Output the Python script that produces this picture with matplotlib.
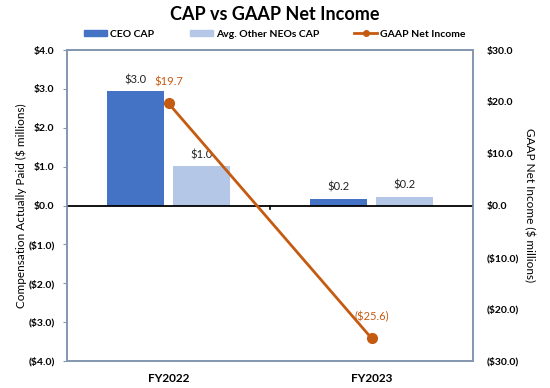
import matplotlib
matplotlib.use("Agg")
import matplotlib.pyplot as plt
import numpy as np
from matplotlib.ticker import FuncFormatter
from matplotlib.lines import Line2D
from matplotlib.patches import Patch

categories = ["FY2022", "FY2023"]
ceo_cap = [2.95, 0.18]
neo_cap = [1.01, 0.23]
ceo_labels = ["$3.0", "$0.2"]
neo_labels = ["$1.0", "$0.2"]
net_income = [19.7, -25.6]
ni_labels = ["$19.7", "($25.6)"]

plt.rcParams['font.family'] = ['Lato', 'DejaVu Sans']

c_ceo = "#4472C4"
c_neo = "#B4C7E7"
c_line = "#C55A11"
c_spine = "#8497B0"

fig = plt.figure(figsize=(5.5, 3.88), dpi=100)
ax = fig.add_axes([0.122, 0.0696, 0.738, 0.8014])
ax2 = ax.twinx()

x = np.arange(len(categories))
w = 0.28
off = 0.162
ax.bar(x - off, ceo_cap, w, color=c_ceo, zorder=2)
ax.bar(x + off, neo_cap, w, color=c_neo, zorder=2)
for xi, v, l in zip(x - off, ceo_cap, ceo_labels):
    ax.text(xi, v + 0.15, l, ha='center', va='bottom', fontsize=8, color='#222222')
for xi, v, l in zip(x + off, neo_cap, neo_labels):
    ax.text(xi, v + 0.15, l, ha='center', va='bottom', fontsize=8, color='#222222')

ax.axhline(0, color='black', lw=1.3, zorder=3)
ax.plot([0.5, 0.5], [0, -0.1], color='black', lw=1.2, zorder=3)

ax.set_xlim(-0.5, 1.5)
ax.set_ylim(-4, 4)
ax.set_yticks(np.arange(-4, 4.01, 1))
def lfmt(v, p):
    return f"${v:.1f}" if v >= 0 else f"(${-v:.1f})"
ax.yaxis.set_major_formatter(FuncFormatter(lfmt))
ax.set_xticks(x)
ax.set_xticklabels(categories, fontweight='bold', fontsize=8.5)
ax.tick_params(axis='x', length=0, pad=9)
ax.tick_params(axis='y', length=3, color=c_spine, labelsize=7.5, pad=6)
for lab in ax.get_yticklabels():
    lab.set_fontweight('bold')
ax.set_ylabel("Compensation Actually Paid ($ millions)", fontsize=8.5, labelpad=1)

ax2.plot(x, net_income, color=c_line, lw=2, marker='o', markersize=7, zorder=4)
for xi, v, l in zip(x, net_income, ni_labels):
    ax2.text(xi, v + 3.0, l, ha='center', va='bottom', fontsize=8, color=c_line)
ax2.set_ylim(-30, 30)
ax2.set_yticks(np.arange(-30, 30.1, 10))
ax2.yaxis.set_major_formatter(FuncFormatter(lfmt))
ax2.tick_params(axis='y', length=0, labelsize=7.5, pad=10)
for lab in ax2.get_yticklabels():
    lab.set_fontweight('bold')
ax2.set_ylabel("GAAP Net Income ($ millions)", fontsize=8.5, rotation=270, labelpad=11)

for a in (ax, ax2):
    for s in a.spines.values():
        s.set_color(c_spine)
        s.set_linewidth(1.2)

fig.text(0.5, 0.962, "CAP vs GAAP Net Income", ha='center', va='center',
         fontsize=13, fontweight='bold')

handles = [Patch(color=c_ceo), Patch(color=c_neo),
           Line2D([0], [0], color=c_line, lw=2, marker='o', markersize=4)]
labels = ["CEO CAP", "Avg. Other NEOs CAP", "GAAP Net Income"]
leg = fig.legend(handles, labels, loc='center', bbox_to_anchor=(0.5, 0.912), ncol=3,
                 frameon=False, fontsize=7.5, handlelength=2.2, handleheight=0.45,
                 columnspacing=3.4, handletextpad=0.3)
for t in leg.get_texts():
    t.set_fontweight('bold')

fig.savefig("out.png", dpi=100)
